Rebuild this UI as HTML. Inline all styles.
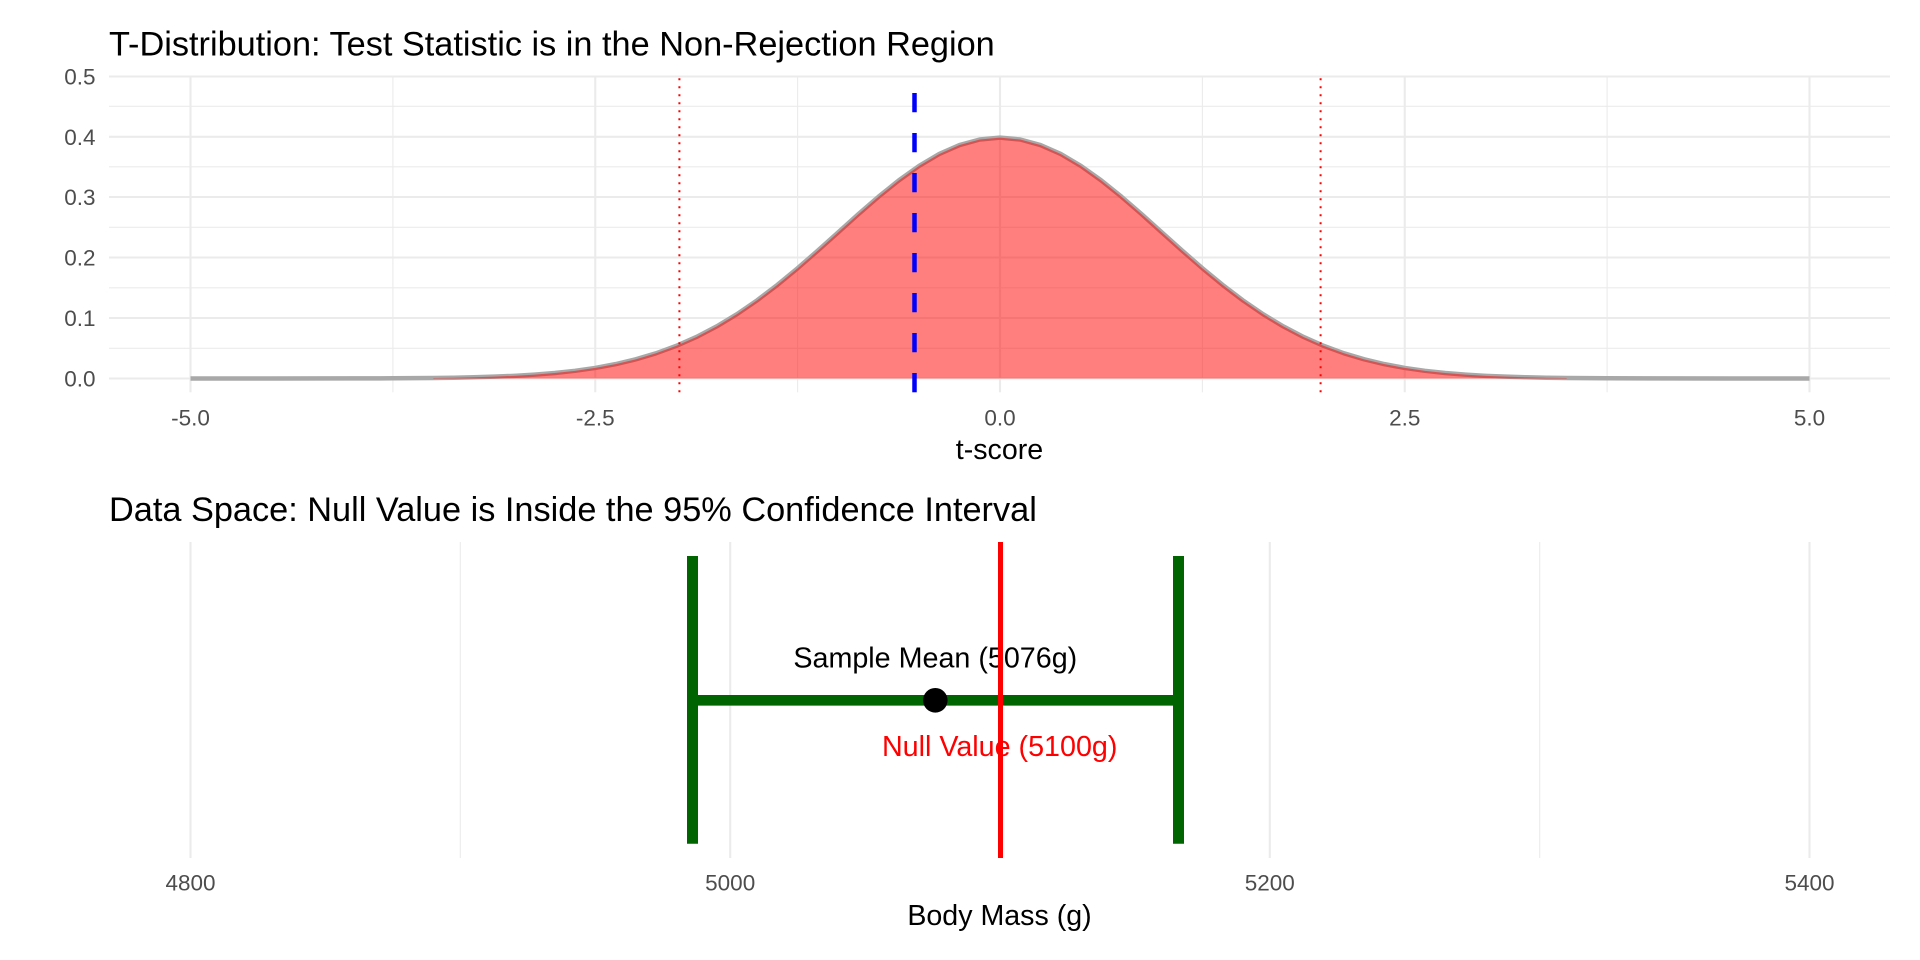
<!DOCTYPE html>
<html><head><meta charset="utf-8"><style>
html,body{margin:0;padding:0;background:#fff;}
svg{display:block;}
text{font-family:"Liberation Sans",Arial,sans-serif;}
</style></head><body>
<svg width="1920" height="960" viewBox="0 0 1920 960" xmlns="http://www.w3.org/2000/svg">
<rect width="1920" height="960" fill="#fff"/>
<!-- TOP PANEL GRID -->
<g stroke="#EBEBEB" fill="none">
 <g stroke-width="1.1">
  <line x1="109" y1="348.3" x2="1890" y2="348.3"/>
  <line x1="109" y1="287.8" x2="1890" y2="287.8"/>
  <line x1="109" y1="227.3" x2="1890" y2="227.3"/>
  <line x1="109" y1="166.8" x2="1890" y2="166.8"/>
  <line x1="109" y1="106.3" x2="1890" y2="106.3"/>
  <line x1="392.9" y1="76" x2="392.9" y2="392.3"/>
  <line x1="797.6" y1="76" x2="797.6" y2="392.3"/>
  <line x1="1202.4" y1="76" x2="1202.4" y2="392.3"/>
  <line x1="1607.1" y1="76" x2="1607.1" y2="392.3"/>
 </g>
 <g stroke-width="2.1">
  <line x1="109" y1="378.5" x2="1890" y2="378.5"/>
  <line x1="109" y1="318" x2="1890" y2="318"/>
  <line x1="109" y1="257.5" x2="1890" y2="257.5"/>
  <line x1="109" y1="197" x2="1890" y2="197"/>
  <line x1="109" y1="136.8" x2="1890" y2="136.8"/>
  <line x1="109" y1="76.5" x2="1890" y2="76.5"/>
  <line x1="190.5" y1="76" x2="190.5" y2="392.3"/>
  <line x1="595.25" y1="76" x2="595.25" y2="392.3"/>
  <line x1="1000" y1="76" x2="1000" y2="392.3"/>
  <line x1="1404.75" y1="76" x2="1404.75" y2="392.3"/>
  <line x1="1809.5" y1="76" x2="1809.5" y2="392.3"/>
 </g>
</g>
<!-- density -->
<g transform="translate(1000,378.5) scale(161.9,-603.8)">
 <path vector-effect="non-scaling-stroke" fill="none" stroke="#A8A8A8" stroke-width="4.5" stroke-linejoin="round"
  d="M-5 0 L-4.5 .00002 L-4 .00013 L-3.75 .00035 L-3.5 .00087 L-3.375 .00134 L-3.25 .00203 L-3.125 .00302 L-3 .00443 L-2.875 .0064 L-2.75 .00909 L-2.625 .01272 L-2.5 .01753 L-2.375 .02377 L-2.25 .03174 L-2.125 .04172 L-2 .05399 L-1.875 .06879 L-1.75 .08628 L-1.625 .10654 L-1.5 .12952 L-1.375 .15502 L-1.25 .18265 L-1.125 .21187 L-1 .24197 L-.875 .27205 L-.75 .30114 L-.625 .32816 L-.5 .35207 L-.375 .37186 L-.25 .38667 L-.125 .39584 L0 .39894 L.125 .39584 L.25 .38667 L.375 .37186 L.5 .35207 L.625 .32816 L.75 .30114 L.875 .27205 L1 .24197 L1.125 .21187 L1.25 .18265 L1.375 .15502 L1.5 .12952 L1.625 .10654 L1.75 .08628 L1.875 .06879 L2 .05399 L2.125 .04172 L2.25 .03174 L2.375 .02377 L2.5 .01753 L2.625 .01272 L2.75 .00909 L2.875 .0064 L3 .00443 L3.125 .00302 L3.25 .00203 L3.375 .00134 L3.5 .00087 L3.75 .00035 L4 .00013 L4.5 .00002 L5 0"/>
 <path fill="rgba(255,0,0,0.5)" stroke="none"
  d="M-3.5 0 L-3.5 .00087 L-3.375 .00134 L-3.25 .00203 L-3.125 .00302 L-3 .00443 L-2.875 .0064 L-2.75 .00909 L-2.625 .01272 L-2.5 .01753 L-2.375 .02377 L-2.25 .03174 L-2.125 .04172 L-2 .05399 L-1.875 .06879 L-1.75 .08628 L-1.625 .10654 L-1.5 .12952 L-1.375 .15502 L-1.25 .18265 L-1.125 .21187 L-1 .24197 L-.875 .27205 L-.75 .30114 L-.625 .32816 L-.5 .35207 L-.375 .37186 L-.25 .38667 L-.125 .39584 L0 .39894 L.125 .39584 L.25 .38667 L.375 .37186 L.5 .35207 L.625 .32816 L.75 .30114 L.875 .27205 L1 .24197 L1.125 .21187 L1.25 .18265 L1.375 .15502 L1.5 .12952 L1.625 .10654 L1.75 .08628 L1.875 .06879 L2 .05399 L2.125 .04172 L2.25 .03174 L2.375 .02377 L2.5 .01753 L2.625 .01272 L2.75 .00909 L2.875 .0064 L3 .00443 L3.125 .00302 L3.25 .00203 L3.375 .00134 L3.5 .00087 L3.5 0 Z"/>
</g>
<!-- critical lines -->
<line x1="679.4" y1="392.3" x2="679.4" y2="77" stroke="#FF0000" stroke-width="2" stroke-dasharray="2 6"/>
<line x1="1320.6" y1="392.3" x2="1320.6" y2="77" stroke="#FF0000" stroke-width="2" stroke-dasharray="2 6"/>
<!-- test statistic -->
<line x1="914.5" y1="392.3" x2="914.5" y2="77" stroke="#0000FF" stroke-width="4.5" stroke-dasharray="19.3 20.7"/>

<!-- TOP TEXT -->
<text x="109" y="55.5" font-size="34.3" fill="#000">T-Distribution: Test Statistic is in the Non-Rejection Region</text>
<g font-size="22.5" fill="#4D4D4D" text-anchor="end">
 <text x="95.5" y="386.5">0.0</text>
 <text x="95.5" y="326">0.1</text>
 <text x="95.5" y="265.5">0.2</text>
 <text x="95.5" y="205">0.3</text>
 <text x="95.5" y="144.8">0.4</text>
 <text x="95.5" y="84.5">0.5</text>
</g>
<g font-size="22.5" fill="#4D4D4D" text-anchor="middle">
 <text x="190.5" y="425.5">-5.0</text>
 <text x="595.25" y="425.5">-2.5</text>
 <text x="1000" y="425.5">0.0</text>
 <text x="1404.75" y="425.5">2.5</text>
 <text x="1809.5" y="425.5">5.0</text>
</g>
<text x="999.5" y="459" font-size="28.6" fill="#000" text-anchor="middle">t-score</text>

<!-- BOTTOM PANEL -->
<text x="109" y="521" font-size="34.3" fill="#000">Data Space: Null Value is Inside the 95% Confidence Interval</text>
<g stroke="#EBEBEB" fill="none">
 <g stroke-width="1.1">
  <line x1="460.3" y1="542" x2="460.3" y2="858"/>
  <line x1="1000" y1="542" x2="1000" y2="858"/>
  <line x1="1539.7" y1="542" x2="1539.7" y2="858"/>
 </g>
 <g stroke-width="2.1">
  <line x1="190.5" y1="542" x2="190.5" y2="858"/>
  <line x1="730.2" y1="542" x2="730.2" y2="858"/>
  <line x1="1269.8" y1="542" x2="1269.8" y2="858"/>
  <line x1="1809.5" y1="542" x2="1809.5" y2="858"/>
 </g>
</g>
<!-- errorbar -->
<g stroke="#006400" fill="none">
 <line x1="692.5" y1="700.3" x2="1178.5" y2="700.3" stroke-width="10.7"/>
 <line x1="692.5" y1="556" x2="692.5" y2="843.7" stroke-width="11"/>
 <line x1="1178.5" y1="556" x2="1178.5" y2="843.7" stroke-width="11"/>
</g>
<circle cx="935.3" cy="700.3" r="12.3" fill="#000"/>
<text x="935.3" y="667.7" font-size="28.7" fill="#000" text-anchor="middle">Sample Mean (5076g)</text>
<text x="999.7" y="756" font-size="28.7" fill="#FF0000" text-anchor="middle">Null Value (5100g)</text>
<line x1="1000.5" y1="542" x2="1000.5" y2="858" stroke="#FF0000" stroke-width="5"/>

<g font-size="22.5" fill="#4D4D4D" text-anchor="middle">
 <text x="190.5" y="890.5">4800</text>
 <text x="730.2" y="890.5">5000</text>
 <text x="1269.8" y="890.5">5200</text>
 <text x="1809.5" y="890.5">5400</text>
</g>
<text x="999.5" y="925" font-size="28.6" fill="#000" text-anchor="middle">Body Mass (g)</text>
</svg>
</body></html>
